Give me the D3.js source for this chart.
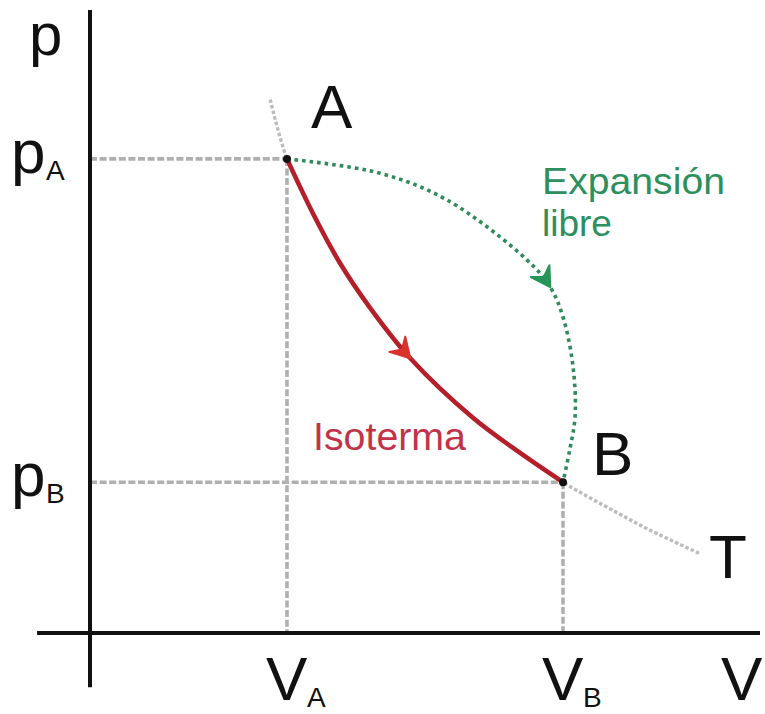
<!DOCTYPE html>
<html>
<head>
<meta charset="utf-8">
<script src="https://cdn.jsdelivr.net/npm/d3@7"></script>
<style>
  html, body { margin: 0; padding: 0; background: #fff; }
  svg { display: block; font-family: "Liberation Sans", Arial, sans-serif; }
</style>
</head>
<body>
<svg id="chart" width="765" height="714"></svg>
<script>
// ---- Data (abstract V / p units) ----
const stateNames = ["A", "B"];
const stateV = [29.4, 70.6];
const stateP = [76.1, 24.2];

// Isotherm T (gray dotted, red solid between A and B)
const isoV = [26.9, 29.4, 33.3, 37.3, 41.8, 47.8, 57.2, 64.2, 70.6, 78.7, 83.6, 90.9];
const isoP = [85.6, 76.1, 67.3, 59.4, 52.2, 44.1, 34.5, 28.9, 24.2, 19.3, 16.5, 12.8];
const redStart = 1, redEnd = 8, redArrowIdx = 5;

// Free expansion path (green dotted)
const freeV = [29.4, 43.3, 53.3, 65.2, 68.7, 70.6, 72.1, 72.4, 71.6, 70.6];
const freeP = [76.1, 73.8, 69.5, 59.9, 55.5, 50.7, 42.7, 34.7, 29.4, 24.2];
const greenArrowIdx = 4;

// Axis tick labels
const xTickMain = ["V", "V"];
const xTickSub = ["A", "B"];
const yTickMain = ["p", "p"];
const yTickSub = ["A", "B"];
const axisLabelX = "V";
const axisLabelY = "p";
const isoLabel = "T";
const redLabel = "Isoterma";
const greenLabel = ["Expansión", "libre"];

// ---- Scales ----
const svg = d3.select("#chart");
const x = d3.scaleLinear().domain([0, 100]).range([90, 760]);
const y = d3.scaleLinear().domain([0, 100]).range([633, 10]);
const xMinExt = -7.9, yMinExt = -8.7;

const FONT_BIG = 62, FONT_SUB = 28;

// Helper lines
const gGuides = svg.append("g");
stateV.forEach((v, i) => {
  gGuides.append("line")
    .attr("x1", x(0)).attr("x2", x(v))
    .attr("y1", y(stateP[i])).attr("y2", y(stateP[i]))
    .attr("stroke", "#b0b0b0").attr("stroke-width", 3.6)
    .attr("stroke-dasharray", "7,2.6");
  gGuides.append("line")
    .attr("x1", x(v)).attr("x2", x(v))
    .attr("y1", y(stateP[i])).attr("y2", y(0))
    .attr("stroke", "#b0b0b0").attr("stroke-width", 3.6)
    .attr("stroke-dasharray", "7,2.6");
});

// Axes
svg.append("line")
  .attr("x1", x(0)).attr("x2", x(0))
  .attr("y1", y(100)).attr("y2", y(yMinExt))
  .attr("stroke", "#111").attr("stroke-width", 4);
svg.append("line")
  .attr("x1", x(xMinExt)).attr("x2", x(100))
  .attr("y1", y(0)).attr("y2", y(0))
  .attr("stroke", "#111").attr("stroke-width", 4);

const line = d3.line().x(d => x(d[0])).y(d => y(d[1])).curve(d3.curveCatmullRom.alpha(0.5));

const isoPts = isoV.map((v, i) => [v, isoP[i]]);
const freePts = freeV.map((v, i) => [v, freeP[i]]);

// Gray isotherm
svg.append("path").attr("d", line(isoPts))
  .attr("fill", "none").attr("stroke", "#bcbcbc").attr("stroke-width", 3.4)
  .attr("stroke-dasharray", "3.5,2.2");

// Red isotherm segment A -> B
svg.append("path").attr("d", line(isoPts.slice(redStart, redEnd + 1)))
  .attr("fill", "none").attr("stroke", "#b41f2a").attr("stroke-width", 4.6)
  .attr("stroke-linecap", "round");

// Green free expansion
svg.append("path").attr("d", line(freePts))
  .attr("fill", "none").attr("stroke", "#2f8a5c").attr("stroke-width", 3.6)
  .attr("stroke-dasharray", "3.6,4");

// Arrowheads
function arrow(pts, idx, color) {
  const p0 = pts[idx - 1], p1 = pts[idx], p2 = pts[idx + 1];
  const tx = x(p1[0]), ty = y(p1[1]);
  let dx = x(p2[0]) - x(p0[0]), dy = y(p2[1]) - y(p0[1]);
  const len = Math.hypot(dx, dy); dx /= len; dy /= len;
  const L = 22, ang = 30 * Math.PI / 180;
  const rot = (a) => [dx * Math.cos(a) - dy * Math.sin(a), dx * Math.sin(a) + dy * Math.cos(a)];
  const r1 = rot(ang), r2 = rot(-ang);
  const w1 = [tx - L * r1[0], ty - L * r1[1]];
  const w2 = [tx - L * r2[0], ty - L * r2[1]];
  const n = [tx - 0.55 * L * dx, ty - 0.55 * L * dy];
  svg.append("path")
    .attr("d", `M${tx},${ty}L${w1[0]},${w1[1]}L${n[0]},${n[1]}L${w2[0]},${w2[1]}Z`)
    .attr("fill", color).attr("stroke", color).attr("stroke-width", 2).attr("stroke-linejoin", "round");
}
arrow(isoPts, redArrowIdx, "#d9332b");
arrow(freePts, greenArrowIdx, "#26955a");

// State points
stateV.forEach((v, i) => {
  svg.append("circle").attr("cx", x(v)).attr("cy", y(stateP[i])).attr("r", 4).attr("fill", "#111");
});

// Text helpers
function txt(str, px, py, size, color, anchor) {
  return svg.append("text").attr("x", px).attr("y", py)
    .attr("font-size", size).attr("fill", color || "#111")
    .attr("text-anchor", anchor || "start").text(str);
}

// Axis labels
txt(axisLabelY, x(0) - 61, 55, 60);
txt(axisLabelX, 721, 700, FONT_BIG);

// Y tick labels
stateP.forEach((p, i) => {
  txt(yTickMain[i], 11, y(p) + 14, FONT_BIG);
  txt(yTickSub[i], 46, y(p) + 21, FONT_SUB);
});
// X tick labels
stateV.forEach((v, i) => {
  txt(xTickMain[i], x(v) - 21, 700, FONT_BIG);
  txt(xTickSub[i], x(v) + 20, 707, FONT_SUB);
});

// State labels
txt(stateNames[0], x(stateV[0]) + 24, y(stateP[0]) - 31, FONT_BIG);
txt(stateNames[1], x(stateV[1]) + 29, y(stateP[1]) - 7, FONT_BIG);
txt(isoLabel, x(isoV[isoV.length - 1]) + 10, y(isoP[isoP.length - 1]) + 25, FONT_BIG);

// Curve labels
txt(redLabel, 313, 450, 39, "#c2334a").attr("textLength", 153).attr("lengthAdjust", "spacingAndGlyphs");
txt(greenLabel[0], 542, 194, 37, "#2e8f5e").attr("textLength", 183).attr("lengthAdjust", "spacingAndGlyphs");
txt(greenLabel[1], 542, 236, 37, "#2e8f5e");
</script>
</body>
</html>
